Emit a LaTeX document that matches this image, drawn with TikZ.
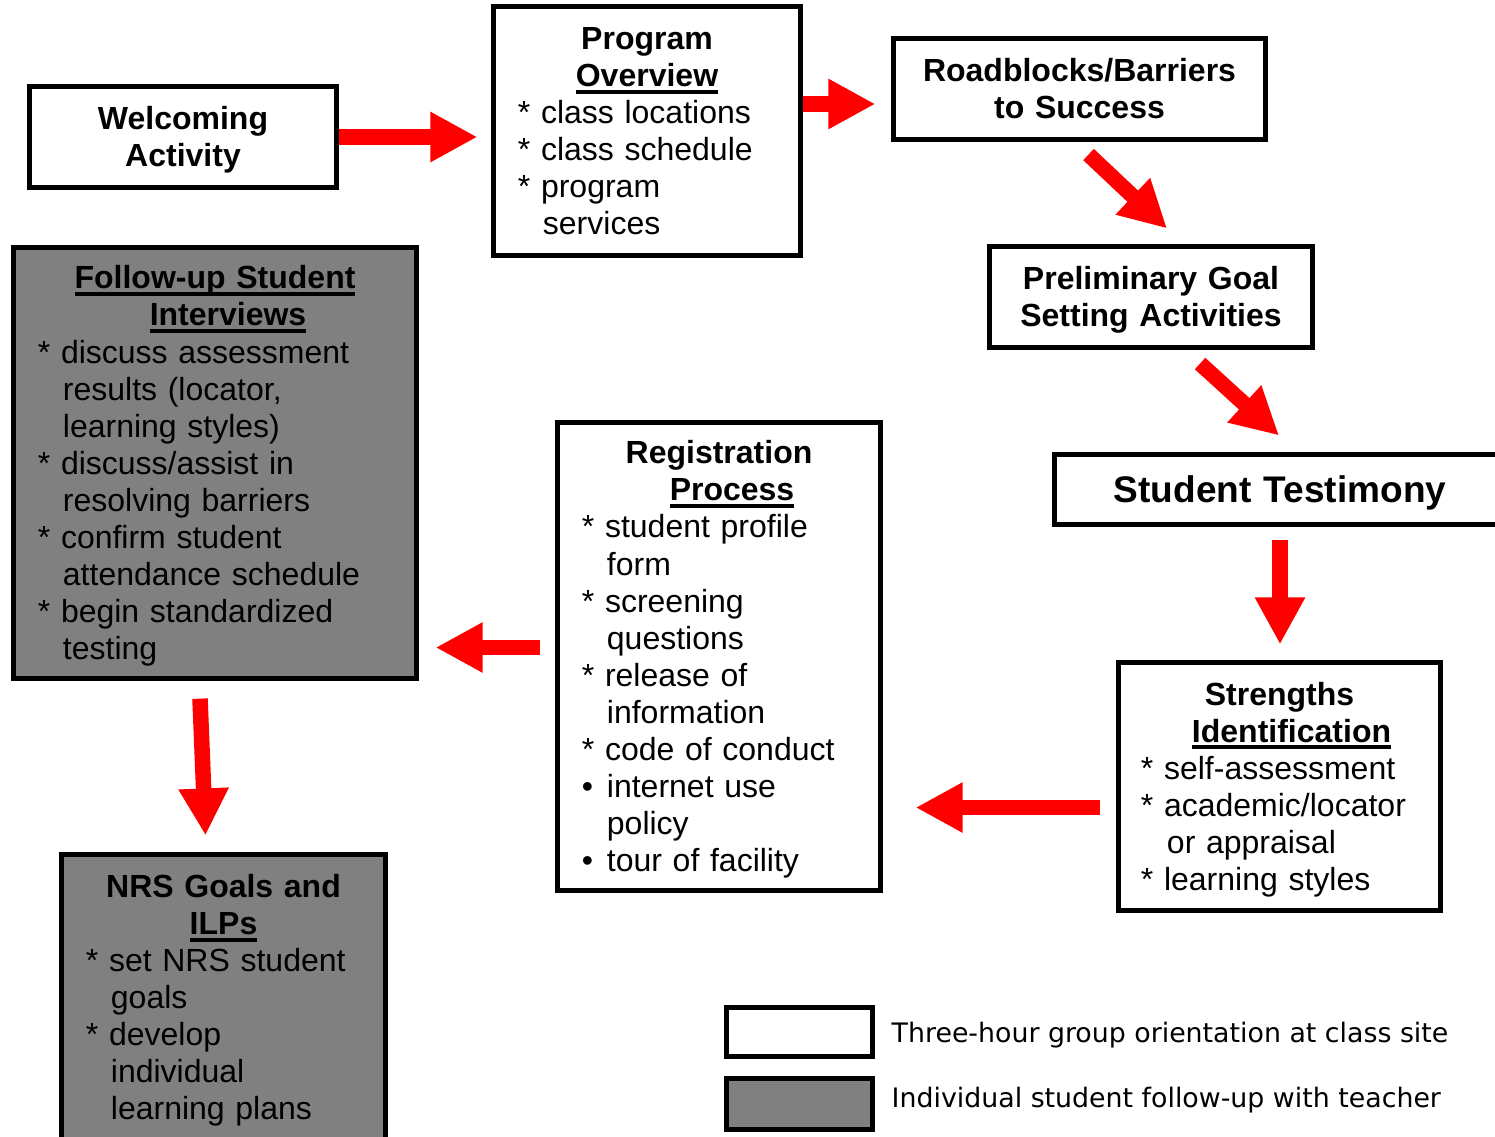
\documentclass[tikz,border=0pt]{standalone}
\usepackage{fontspec}
\setmainfont{Liberation Sans}
\newfontfamily\legendfont{DejaVu Sans}
\usepackage{tikz}
\usetikzlibrary{arrows.meta,positioning}
\usepackage{xcolor}
\definecolor{boxgray}{RGB}{128,128,128}
\definecolor{flowred}{RGB}{255,0,0}
% underlined heading with a heavier rule just under the baseline
\newcommand{\headline}[1]{\leavevmode\setbox0\hbox{\bfseries #1}\rlap{\rule[-0.07cm]{\wd0}{0.04cm}}\box0}
% full line height, so the text sits in the box as the slides had it
\newcommand{\linestrut}{\rule[-0.212em]{0pt}{1.117em}}

\begin{document}
\begin{tikzpicture}[
    x=0.01cm, y=-0.01cm,
    box/.style={rectangle, draw=black, line width=1.42pt, fill=white, inner sep=0pt,
                align=left, font=\fontsize{9.1pt}{10.53pt}\selectfont,
                execute at begin node={\linestrut}, execute at end node={\linestrut}},
    heading/.style={box, align=center, font=\fontsize{9.1pt}{10.53pt}\selectfont\bfseries},
    followup/.style={box, fill=boxgray},
    flow/.style={flowred, line width=0.155cm, -{Triangle[length=0.47cm, width=0.47cm]}},
    legend/.style={anchor=west, inner sep=0pt, font=\fontsize{7.62pt}{9pt}\legendfont}
]
\useasboundingbox (0,0) rectangle (1495,1136);

% Orientation steps
\node[heading, minimum width=3.06cm, minimum height=1.0cm, text width=2.9cm] (welcome) at (183,137)
  {Welcoming\\Activity};
\node[box, minimum width=3.06cm, minimum height=2.48cm, text width=2.58cm] (program) at (647,131)
  {\centering\textbf{Program}\\\headline{Overview}\par
   \raggedright {*} class locations\\{*} class schedule\\{*} program\\\hspace*{0.25cm}services};
\node[heading, minimum width=3.71cm, minimum height=1.0cm, text width=3.6cm] (roadblocks) at (1079.5,89)
  {Roadblocks/Barriers\\to Success};
\node[heading, minimum width=3.22cm, minimum height=1.0cm, text width=3.1cm] (prelim) at (1151,297)
  {Preliminary Goal\\Setting Activities};
\node[heading, minimum width=4.5cm, minimum height=0.69cm, text width=4.3cm,
      font=\fontsize{10.53pt}{12pt}\selectfont\bfseries] (testimony) at (1280,489.5)
  {Student Testimony};
\node[box, minimum width=3.21cm, minimum height=2.47cm, text width=2.77cm] (strengths) at (1279.5,786.5)
  {\centering\textbf{Strengths}\\\hspace*{0.24cm}\headline{Identification}\par
   \raggedright {*} self-assessment\\{*} academic/locator\\\hspace*{0.26cm}or appraisal\\{*} learning styles};
\node[box, minimum width=3.22cm, minimum height=4.67cm, text width=2.74cm] (registration) at (719,656.5)
  {\centering\textbf{Registration}\\\hspace*{0.26cm}\headline{Process}\par
   \raggedright {*} student profile\\\hspace*{0.25cm}form\\{*} screening\\\hspace*{0.25cm}questions\\
   {*} release of\\\hspace*{0.25cm}information\\{*} code of conduct\\
   \makebox[0.25cm][l]{\textbullet}internet use\\\hspace*{0.25cm}policy\\
   \makebox[0.25cm][l]{\textbullet}tour of facility};

% Individual follow-up
\node[followup, minimum width=4.02cm, minimum height=4.3cm, text width=3.54cm] (interviews) at (215,463)
  {\centering\headline{Follow-up Student}\\\hspace*{0.26cm}\headline{Interviews}\par
   \raggedright {*} discuss assessment\\\hspace*{0.25cm}results (locator,\\\hspace*{0.25cm}learning styles)\\
   {*} discuss/assist in\\\hspace*{0.25cm}resolving barriers\\{*} confirm student\\
   \hspace*{0.25cm}attendance schedule\\{*} begin standardized\\\hspace*{0.25cm}testing};
\node[followup, minimum width=3.23cm, minimum height=2.85cm, text width=2.75cm] (nrs) at (223.5,997.5)
  {\centering\textbf{NRS Goals and}\\\headline{ILPs}\par
   \raggedright {*} set NRS student\\\hspace*{0.25cm}goals\\{*} develop\\\hspace*{0.25cm}individual\\
   \hspace*{0.25cm}learning plans};

% Arrows
\draw[flow, shorten >=0.14cm] (welcome.east) -- (welcome.east -| program.west);
\draw[flow, shorten >=0.16cm] ([yshift=0.27cm]program.east) -- ([yshift=0.27cm]program.east -| roadblocks.west);
\draw[flow] ([shift={(0.09cm,-0.13cm)}]roadblocks.south) -- ([shift={(0.16cm,0.16cm)}]prelim.north);
\draw[flow] ([shift={(0.49cm,-0.14cm)}]prelim.south) -- ([shift={(-0.01cm,0.17cm)}]testimony.north);
\draw[flow, shorten <=0.13cm, shorten >=0.16cm] (testimony.south) -- (testimony.south |- strengths.north);
\draw[flow, shorten <=0.16cm, shorten >=0.33cm] ([yshift=-0.21cm]strengths.west) -- ([yshift=-0.21cm]strengths.west -| registration.east);
\draw[flow, shorten <=0.15cm, shorten >=0.17cm] ([yshift=0.09cm]registration.west) -- ([yshift=0.09cm]registration.west -| interviews.east);
\draw[flow] ([shift={(-0.15cm,-0.18cm)}]interviews.south) -- ([shift={(-0.18cm,0.17cm)}]nrs.north);

% Legend
\node[box, minimum width=1.45cm, minimum height=0.49cm] (keygroup) at (799.5,1031.5) {};
\node[followup, minimum width=1.45cm, minimum height=0.51cm] (keyself) at (799.5,1103.5) {};
\node[legend] (grouptext) at (891,1035) {Three-hour group orientation at class site};
\node[legend] (selftext) at (891,1100) {Individual student follow-up with teacher};

\end{tikzpicture}
\end{document}
